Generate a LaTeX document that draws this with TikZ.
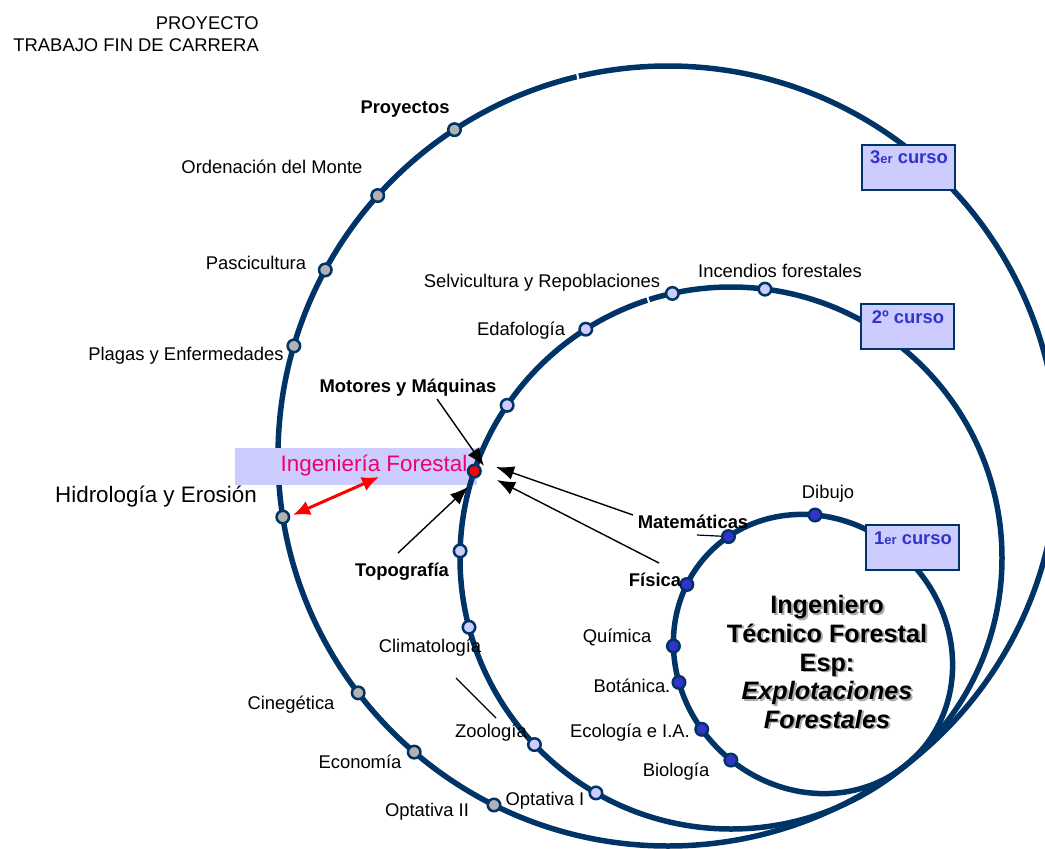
\documentclass[tikz,border=0pt]{standalone}
\usepackage{fontspec}
\setmainfont{Liberation Sans}
\usetikzlibrary{arrows.meta}
\definecolor{navy}{RGB}{0,51,102}
\definecolor{lav}{RGB}{204,204,255}
\definecolor{cblue}{RGB}{51,51,204}
\definecolor{greyd}{RGB}{178,178,178}
\definecolor{pinkt}{RGB}{240,0,110}
\definecolor{shadowg}{RGB}{170,170,170}
\begin{document}
\begin{tikzpicture}[x=1pt,y=-1pt,
  ring/.style={draw=navy, line width=5.5pt},
  dotbase/.style={circle, inner sep=0pt, minimum size=12.5pt, draw=navy, line width=2.5pt},
  gdot/.style={dotbase, fill=greyd},
  mdot/.style={dotbase, fill=lav},
  sdot/.style={dotbase, fill=cblue},
  rdot/.style={dotbase, fill=red},
  lbl/.style={inner sep=0pt, font=\fontsize{18.4}{22}\selectfont},
  blbl/.style={inner sep=0pt, font=\fontsize{18.4}{22}\selectfont\bfseries},
  cbox/.style={draw=navy, line width=2pt, fill=lav, minimum width=93pt, minimum height=45pt, inner sep=0pt},
  ctext/.style={inner sep=0pt, text=cblue, font=\fontsize{18.4}{22}\selectfont\bfseries},
  blkarrow/.style={draw=black, line width=1.4pt, -{Latex[length=18pt,width=14pt]}},
  redarrow/.style={draw=red, line width=3pt, {Latex[length=17pt,width=15pt]}-{Latex[length=17pt,width=15pt]}},
  gap/.style={draw=white, line width=2pt}
]
\useasboundingbox (0,0) rectangle (1045,849);
\clip (0,0) rectangle (1045,849);

% centres
\coordinate (Cb) at (668,456);
\coordinate (Cm) at (731,558);

% big circle
\draw[ring] (Cb) circle[radius=390pt];
\draw[gap] (578.5,80) -- (575.5,66);

% band behind Ingenieria Forestal
\node[fill=lav, inner sep=0pt, minimum width=242pt, minimum height=37pt] (band) at (356,466.5) {};

% middle circle
\draw[ring] (Cm) circle[radius=271pt];
\draw[gap] (650,305.5) -- (646,292.5);

% small ellipse with its dots
\begin{scope}[shift={(813,654)}, rotate=135]
  \draw[ring] (0,0) ellipse[x radius=145, y radius=134];
  \node[sdot] (dDib) at (48.1:145 and 134) {};
  \node[sdot] (dMat) at (10.0:145 and 134) {};
  \node[sdot] (dFis) at (-17.4:145 and 134) {};
  \node[sdot] (dQui) at (-44.0:145 and 134) {};
  \node[sdot] (dBot) at (-59.0:145 and 134) {};
  \node[sdot] (dEco) at (-79.9:145 and 134) {};
  \node[sdot] (dBio) at (-96.7:145 and 134) {};
\end{scope}

% big circle dots
\node[gdot] (dProy) at ([shift={(-123.2:390)}]Cb) {};
\node[gdot] (dOrd)  at ([shift={(-138.1:390)}]Cb) {};
\node[gdot] (dPas)  at ([shift={(-151.5:390)}]Cb) {};
\node[gdot] (dPla)  at ([shift={(-163.6:390)}]Cb) {};
\node[gdot] (dHid)  at ([shift={(171.0:390)}]Cb) {};
\node[gdot] (dCin)  at ([shift={(142.6:390)}]Cb) {};
\node[gdot] (dEcon) at ([shift={(130.6:390)}]Cb) {};
\node[gdot] (dOpt2) at ([shift={(116.5:390)}]Cb) {};

% middle circle dots
\node[mdot] (dInc) at ([shift={(-82.8:271)}]Cm) {};
\node[mdot] (dSel) at ([shift={(-102.5:271)}]Cm) {};
\node[mdot] (dEda) at ([shift={(-122.4:271)}]Cm) {};
\node[mdot] (dMot) at ([shift={(-145.7:271)}]Cm) {};
\node[rdot] (dIF)  at ([shift={(-161.3:271)}]Cm) {};
\node[mdot] (dTop) at ([shift={(-178.5:271)}]Cm) {};
\node[mdot] (dCli) at ([shift={(165.2:271)}]Cm) {};
\node[mdot] (dZoo) at ([shift={(136.5:271)}]Cm) {};
\node[mdot] (dOpt1) at ([shift={(119.9:271)}]Cm) {};

% course boxes
\node[cbox] (b3) at (908.5,167.5) {};
\node[ctext] (t3) at (909,157) {3{\fontsize{13}{13}\selectfont er} curso};
\node[cbox] (b2) at (907.5,326.5) {};
\node[ctext] (t2) at (908,317) {2º curso};
\node[cbox] (b1) at (912.5,547.5) {};
\node[ctext] (t1) at (913,538) {1{\fontsize{13}{13}\selectfont er} curso};

% title
\node[lbl, anchor=east, align=right] (title) at (259,34) {PROYECTO\\TRABAJO FIN DE CARRERA};

% big circle labels
\node[blbl] (lProy) at (405,109) {Proyectos};
\node[lbl] (lOrd) at (272,167) {Ordenación del Monte};
\node[lbl] (lPas) at (256,263) {Pascicultura};
\node[lbl] (lPla) at (186,356) {Plagas y Enfermedades};
\node[inner sep=0pt, font=\fontsize{22.4}{26}\selectfont] (lHid) at (156,497) {Hidrología y Erosión};
\node[lbl] (lCin) at (291,705) {Cinegética};
\node[lbl] (lEcon) at (360,762) {Economía};
\node[lbl] (lOpt2) at (427,812) {Optativa II};

% middle circle labels
\node[lbl] (lInc) at (780,271) {Incendios forestales};
\node[lbl] (lSel) at (542,283) {Selvicultura y Repoblaciones};
\node[lbl] (lEda) at (521,331) {Edafología};
\node[blbl] (lMot) at (408,388) {Motores y Máquinas};
\node[inner sep=0pt, text=pinkt, font=\fontsize{22.4}{26}\selectfont] (lIF) at (374,466) {Ingeniería Forestal};
\node[blbl] (lTop) at (402,572) {Topografía};
\node[lbl] (lCli) at (430,648) {Climatología};
\node[lbl] (lZoo) at (491,733) {Zoología};
\node[lbl] (lOpt1) at (545,801) {Optativa I};

% small circle labels
\node[lbl] (lDib) at (828,494) {Dibujo};
\node[blbl] (lMat) at (693,522) {Matemáticas};
\node[blbl] (lFis) at (655,580) {Física};
\node[lbl] (lQui) at (617,637) {Química};
\node[lbl] (lBot) at (632,686) {Botánica.};
\node[lbl] (lEco) at (630,733) {Ecología e I.A.};
\node[lbl] (lBio) at (676,772) {Biología};

% centre text with shadow
\node[align=center, inner sep=0pt, text=shadowg, font=\fontsize{25.2}{28.7}\selectfont\bfseries] (centreS) at (829,663.5)
  {Ingeniero\\Técnico Forestal\\Esp:\\\textit{Explotaciones}\\\textit{Forestales}};
\node[align=center, inner sep=0pt, font=\fontsize{25.2}{28.7}\selectfont\bfseries] (centre) at (827,662)
  {Ingeniero\\Técnico Forestal\\Esp:\\\textit{Explotaciones}\\\textit{Forestales}};

% connector ends
\coordinate (motS) at (437,399);
\coordinate (motT) at (484,466);
\coordinate (topS) at (398,553);
\coordinate (topT) at (468,487);
\coordinate (matS) at (633,515);
\coordinate (matT) at (496,467);
\coordinate (fisS) at (659,563);
\coordinate (fisT) at (497,480);
\coordinate (matL) at (697,535);
\coordinate (cliA) at (456,678);
\coordinate (cliB) at (496,718);
\coordinate (hidT) at (293,515);
\coordinate (ifT) at (379,477);

\draw[blkarrow] (motS) -- (motT);
\draw[blkarrow] (topS) -- (topT);
\draw[blkarrow] (matS) -- (matT);
\draw[blkarrow] (fisS) -- (fisT);
\draw[black, line width=1.2pt] (matL) -- (dMat);
\draw[black, line width=1.2pt] (cliA) -- (cliB);
\draw[redarrow] (hidT) -- (ifT);
\end{tikzpicture}
\end{document}
